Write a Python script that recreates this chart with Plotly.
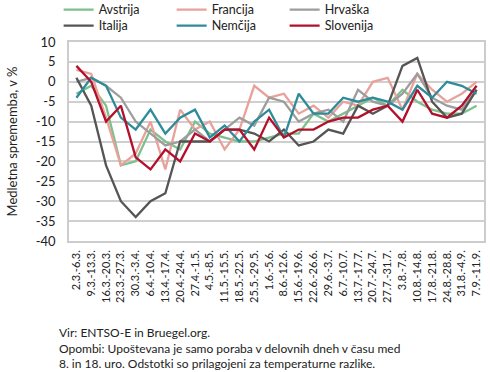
import plotly.graph_objects as go

categories = ["2.3.-6.3.", "9.3.-13.3.", "16.3.-20.3.", "23.3.-27.3.", "30.3.-3.4.", "6.4.-10.4.",
              "13.4.-17.4.", "20.4.-24.4.", "27.4.-1.5.", "4.5.-8.5.", "11.5.-15.5.", "18.5.-22.5.",
              "25.5.-29.5.", "1.6.-5.6.", "8.6.-12.6.", "15.6.-19.6.", "22.6.-26.6.", "29.6.-3.7.",
              "6.7.-10.7.", "13.7.-17.7.", "20.7.-24.7.", "27.7.-31.7.", "3.8.-7.8.", "10.8.-14.8.",
              "17.8.-21.8.", "24.8.-28.8.", "31.8.-4.9.", "7.9.-11.9."]

avstrija = [-3, -1, -6, -21, -20, -12, -15, -17, -10, -13, -14, -15, -15, -14, -13, -13, -8, -10,
            -8, -6, -4, -6, -2, -5, -7, -8, -8, -6]
francija = [3, 2, -9, -21, -18, -10, -22, -7, -12, -10, -17, -12, -1, -4, -3, -8, -6, -9,
            -5, -6, 0, 1, -7, 2, -2, -5, -3, 0]
hrvaska = [0, 1, -1, -4, -10, -13, -16, -15, -12, -15, -12, -9, -11, -4, -5, -10, -8, -7,
           -10, -2, -5, -6, -3, 2, -4, -6, -7, -2]
italija = [1, -6, -21, -30, -34, -30, -28, -15, -15, -15, -12, -12, -13, -15, -12, -16, -15, -12,
           -13, -6, -8, -6, 4, 6, -5, -9, -8, -2]
nemcija = [-4, 1, -1, -9, -12, -7, -13, -9, -7, -14, -11, -15, -10, -7, -14, -3, -8, -8,
           -4, -5, -4, -5, -7, -1, -4, 0, -1, -3]
slovenija = [4, 0, -10, -6, -19, -22, -17, -20, -13, -15, -12, -12, -17, -9, -14, -12, -12, -10,
             -9, -9, -7, -6, -10, -2, -8, -9, -6, -1]

y_tick_values = [10, 5, 0, -5, -10, -15, -20, -25, -30, -35, -40]
y_tick_labels = ["10", "5", "0", "-5", "-10", "-15", "-20", "-25", "-30", "-35", "-40"]

series = [
    ("Avstrija", avstrija, "#7cc08c", "legend"),
    ("Francija", francija, "#e9a19b", "legend"),
    ("Hrvaška", hrvaska, "#9d9d9d", "legend"),
    ("Italija", italija, "#555555", "legend2"),
    ("Nemčija", nemcija, "#2e8b9a", "legend2"),
    ("Slovenija", slovenija, "#b3102c", "legend2"),
]

FONT = "Lato"
fig = go.Figure()
for name, vals, color, lg in series:
    fig.add_trace(go.Scatter(x=categories, y=vals, name=name, mode="lines",
                             line=dict(color=color, width=2.3), legend=lg))

legend_common = dict(orientation="h", xref="paper", yref="paper", xanchor="left", yanchor="middle",
                     entrywidth=68, entrywidthmode="pixels", font=dict(family=FONT, size=12.5, color="#222"),
                     bgcolor="rgba(0,0,0,0)", borderwidth=0, itemwidth=30, tracegroupgap=0)

fig.update_layout(
    width=490, height=372,
    margin=dict(l=69, r=6, t=42, b=131, autoexpand=False),
    paper_bgcolor="white", plot_bgcolor="white",
    font=dict(family=FONT, size=13, color="#222"),
    showlegend=True,
    legend=dict(x=-0.025, y=1.161, **legend_common),
    legend2=dict(x=-0.025, y=1.0805, **legend_common),
    xaxis=dict(type="category", categoryorder="array", categoryarray=categories,
               tickangle=-90, tickfont=dict(family=FONT, size=11, color="#222"),
               showgrid=False, showline=True, linecolor="#cccccc", linewidth=1.5, mirror=True,
               ticks="", ticklabelstandoff=3, range=[-0.5, len(categories) - 0.5],
               automargin=False),
    yaxis=dict(range=[-40, 10], tickvals=y_tick_values, ticktext=y_tick_labels,
               tickfont=dict(family=FONT, size=13, color="#222"),
               showgrid=True, gridcolor="#cfcfcf", gridwidth=1.5,
               showline=True, linecolor="#cccccc", linewidth=1.5, mirror=True,
               zeroline=False, ticks="", ticklabelstandoff=9, automargin=False,
               title=dict(text="Medletna sprememba, v %", font=dict(family=FONT, size=13, color="#222"),
                          standoff=15)),
    annotations=[dict(
        text="Vir: ENTSO-E in Bruegel.org.<br>Opombi: Upoštevana je samo poraba v delovnih dneh v času med<br>8. in 18. uro. Odstotki so prilagojeni za temperaturne razlike.",
        xref="paper", yref="paper", x=-0.028, y=-0.41, xanchor="left", yanchor="top",
        align="left", showarrow=False, font=dict(family=FONT, size=12, color="#222"))],
)

fig.write_html("out.html", config={"displayModeBar": False},
               post_script="document.body.style.margin='0';document.body.style.overflow='hidden';")
